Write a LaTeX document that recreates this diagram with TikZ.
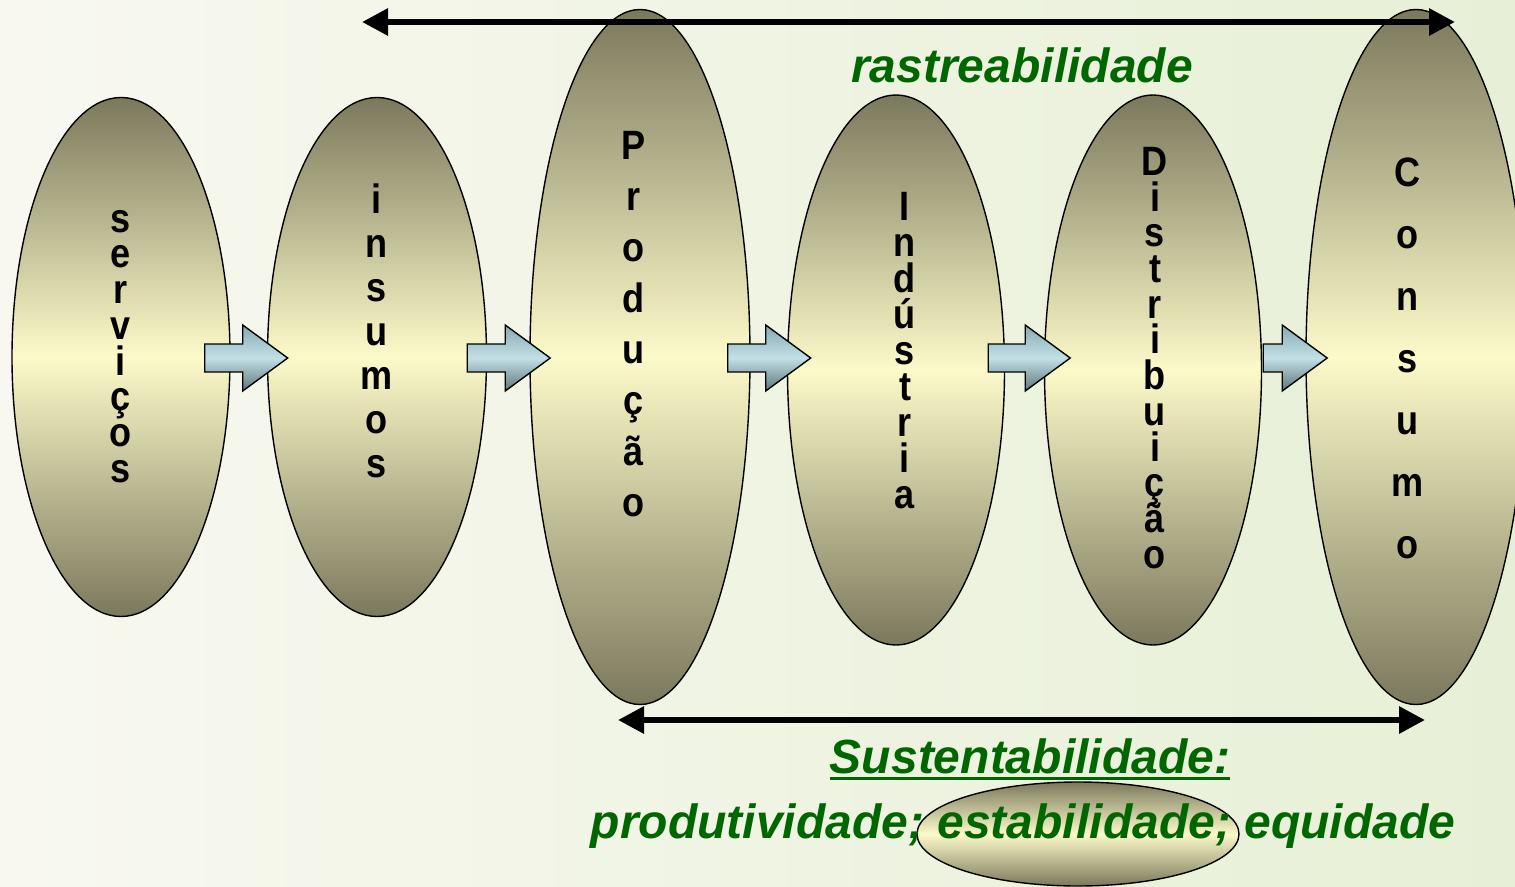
\documentclass[tikz,border=0pt]{standalone}
\usepackage{fontspec}
\setmainfont{Liberation Sans}
\newfontfamily\letfont[FakeStretch=0.88]{Liberation Sans}
\usetikzlibrary{shapes.geometric,arrows.meta,calc}
\definecolor{dgreen}{HTML}{006600}
\definecolor{olive}{HTML}{7B795C}
\definecolor{pale}{HTML}{FCFAC9}
\definecolor{bgleft}{HTML}{F8F8F0}
\definecolor{bgright}{HTML}{E7F0D6}
\definecolor{arrtop}{HTML}{88A9B2}
\definecolor{arrmid}{HTML}{C2E0E6}
\definecolor{arrbot}{HTML}{5E7579}
\begin{document}
\begin{tikzpicture}[x=1pt,y=-1pt,
  stage/.style={ellipse, draw=black, line width=1.4pt, top color=olive, bottom color=olive, middle color=pale, inner sep=0pt},
  letters/.style={align=center, inner sep=0pt, anchor=north,
    font={\letfont\bfseries\fontsize{41}{#1}\selectfont\lineskiplimit=-1000pt\lineskip=0pt}},
  greentext/.style={text=dgreen, font={\bfseries\itshape\fontsize{48}{56}\selectfont}, inner sep=0pt, anchor=base},
  bigarrow/.style={line width=6pt, {Triangle[length=26pt,width=26pt]}-{Triangle[length=26pt,width=26pt]}},
  blockarrow/.style={draw=black, line width=1.4pt, top color=arrtop, bottom color=arrbot, middle color=arrmid},
  barrow/.pic={\path[blockarrow] (0,-14) -- (#1,-14) -- (#1,-33) -- (#1+45,0) -- (#1,33) -- (#1,14) -- (0,14) -- cycle;}
]
\useasboundingbox (0,0) rectangle (1515,886);
\clip (0,0) rectangle (1515,886);
\shade[left color=bgleft, right color=bgright] (0,0) rectangle (1515,886);

% stages
\node[stage, minimum width=218pt, minimum height=519pt] (serv) at (121,357) {};
\node[stage, minimum width=219pt, minimum height=519pt] (insu) at (377,357) {};
\node[stage, minimum width=220pt, minimum height=695pt] (prod) at (640,357) {};
\node[stage, minimum width=217pt, minimum height=550pt] (indu) at (896,370) {};
\node[stage, minimum width=217pt, minimum height=550pt] (dist) at (1153,370) {};
\node[stage, minimum width=220pt, minimum height=695pt] (cons) at (1416,357) {};

% vertical words
\node[letters=35.7] (servt) at (121,210) {s\\e\\r\\v\\i\\ç\\o\\s};
\node[letters=44] (insut) at (377,184) {i\\n\\s\\u\\m\\o\\s};
\node[letters=51] (prodt) at (634,131) {P\\r\\o\\d\\u\\ç\\ã\\o};
\node[letters=36] (indut) at (905,192) {I\\n\\d\\ú\\s\\t\\r\\i\\a};
\node[letters=35.7] (distt) at (1155,147) {D\\i\\s\\t\\r\\i\\b\\u\\i\\ç\\ã\\o};
\node[letters=62] (const) at (1408,158) {C\\o\\n\\s\\u\\m\\o};

% block arrows between stages
\pic at ($(serv.east)+(-26,1)$) {barrow=38};
\pic at ($(insu.east)+(-20,1)$) {barrow=38};
\pic at ($(prod.east)+(-23,1)$) {barrow=38};
\pic at ($(indu.east)+(-17,-12)$) {barrow=37};
\pic at ($(dist.east)+(1,-12)$) {barrow=19};

% long arrows
\coordinate (rl) at (362,22);
\coordinate (rr) at (1455,22);
\draw[bigarrow] (rl) -- (rr);
\coordinate (sl) at (618,720);
\coordinate (sr) at (1425,720);
\draw[bigarrow] (sl) -- (sr);

% small ellipse behind "estabilidade;"
\node[stage, minimum width=322pt, minimum height=104pt] (estab) at (1078,834) {};

% green texts
\node[greentext] (rast) at (1022,82) {rastreabilidade};
\node[greentext] (sust) at (1030,773) {Sustentabilidade:};
\draw[dgreen, line width=3pt] ($(sust.base west)+(0,5)$) -- ($(sust.base east)+(0,5)$);
\node[greentext] (prodl) at (1023,838) {produtividade; estabilidade; equidade};
\end{tikzpicture}
\end{document}
